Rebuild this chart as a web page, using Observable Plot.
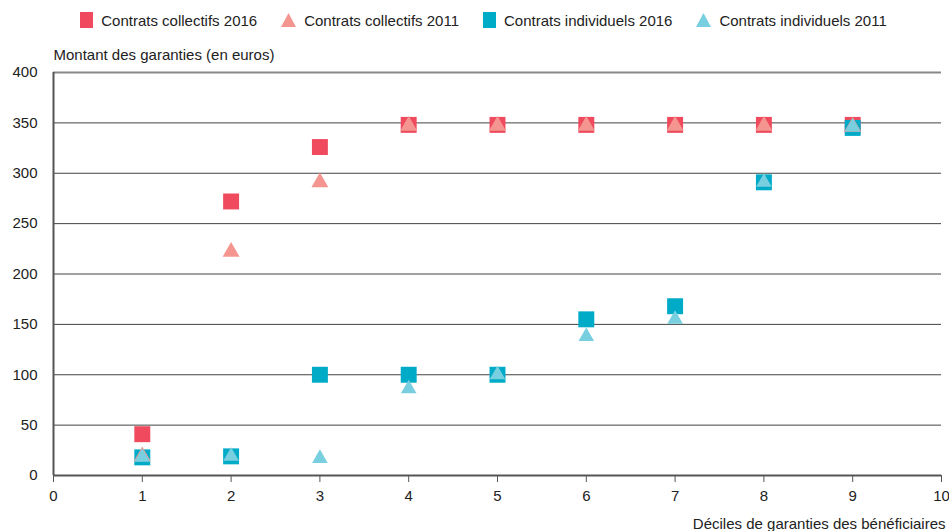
<!DOCTYPE html>
<html><head><meta charset="utf-8">
<script src="https://cdn.jsdelivr.net/npm/d3@7"></script>
<script src="https://cdn.jsdelivr.net/npm/@observablehq/plot@0.6"></script>
<style>
body{margin:0;background:#fff;font-family:"Liberation Sans",Arial,sans-serif;}
#legend{height:40px;display:flex;align-items:center;justify-content:center;font-size:15px;color:#222;padding-left:18px;}
.item{display:flex;align-items:center;margin:0 12px;}
.item svg{margin-right:8px;}
</style></head><body>
<div id="legend"></div>
<div id="chart"></div>
<script>
const deciles = [1,2,3,4,5,6,7,8,9];
const seriesNames = ["Contrats collectifs 2016","Contrats collectifs 2011","Contrats individuels 2016","Contrats individuels 2011"];
const collectifs2016 = [41,272,326,348,348,348,348,348,348];
const collectifs2011 = [19,222,291,347,347,347,347,347,346];
const individuels2016 = [18,19,100,100,100,155,168,291,345];
const individuels2011 = [18,19,17,86,100,138,155,291,346];
const yTicks = [0,50,100,150,200,250,300,350,400];
const xTicks = [0,1,2,3,4,5,6,7,8,9,10];
const colors = ["#ef4a5e","#f4968f","#00abc8","#78cfe0"];
const symbols = ["square","triangle","square","triangle"];

const legend = document.getElementById("legend");
seriesNames.forEach((n,i)=>{
  const d = document.createElement("div"); d.className="item";
  const shape = symbols[i]==="square"
    ? `<rect x="0" y="0" width="13" height="16" fill="${colors[i]}"/>`
    : `<polygon points="7.5,1 15,15 0,15" fill="${colors[i]}"/>`;
  d.innerHTML = `<svg width="${symbols[i]==="square"?13:15}" height="16">${shape}</svg><span>${n}</span>`;
  legend.appendChild(d);
});

const mk = (vals)=>deciles.map((x,i)=>({x, y: vals[i]}));
const font = "Liberation Sans, Arial, sans-serif";
const chart = Plot.plot({
  width: 949, height: 491,
  marginTop: 32, marginBottom: 56, marginLeft: 53, marginRight: 8,
  style: {fontFamily: font, fontSize: "15px", color: "#222", background: "#fff", overflow: "visible"},
  x: {domain: [0,10], label: null},
  y: {domain: [0,400], label: null},
  marks: [
    Plot.ruleY(yTicks.filter(t=>t>0 && t<400), {stroke: "#444", strokeWidth: 1}),
    Plot.ruleY([400], {stroke: "#888", strokeWidth: 2}),
    Plot.ruleX([0], {y1: 0, y2: 400, stroke: "#555", strokeWidth: 2}),
    Plot.ruleY([0], {stroke: "#555", strokeWidth: 2}),
    Plot.axisX({ticks: xTicks, tickSize: 7, tickPadding: 8, stroke: "#555", fontSize: 15, label: null}),
    Plot.axisY({ticks: yTicks, tickSize: 0, tickPadding: 16, fontSize: 15, label: null}),
    Plot.dot(mk(collectifs2016), {x:"x", y:"y", symbol: "square", r: 9, fill: colors[0]}),
    Plot.dot(mk(individuels2016), {x:"x", y:"y", symbol: "square", r: 9, fill: colors[2]}),
    Plot.dot(mk(collectifs2011), {x:"x", y:"y", symbol: "triangle", r: 6.3, fill: colors[1]}),
    Plot.dot(mk(individuels2011), {x:"x", y:"y", symbol: "triangle", r: 5.8, fill: colors[3]}),
    Plot.text(["Montant des garanties (en euros)"], {frameAnchor: "top-left", dx: 0, dy: -23, fontSize: 15, textAnchor: "start"}),
    Plot.text(["Déciles de garanties des bénéficiaires"], {frameAnchor: "bottom-right", dx: 4, dy: 53, fontSize: 15, textAnchor: "end"})
  ]
});
document.getElementById("chart").appendChild(chart);
</script>
</body></html>
